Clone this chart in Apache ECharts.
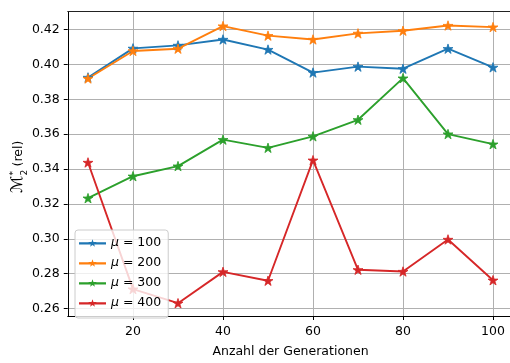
<!DOCTYPE html>
<html>
<head>
<meta charset="utf-8">
<script src="https://cdn.jsdelivr.net/npm/echarts@6/dist/echarts.min.js"></script>
<style>
  html, body { margin: 0; padding: 0; background: #fff; overflow: hidden; width: 510px; height: 363px; }
  #chart { width: 514px; height: 363px; }
</style>
</head>
<body>
<div id="chart"></div>
<script>
// Number of generations (x) and relative M2* per population size mu
const generations = [10, 20, 30, 40, 50, 60, 70, 80, 90, 100];
const mu100 = [0.3926, 0.4093, 0.4110, 0.4144, 0.4086, 0.3954, 0.3988, 0.3976, 0.4091, 0.3984];
const mu200 = [0.3920, 0.4078, 0.4091, 0.4221, 0.4166, 0.4144, 0.4179, 0.4194, 0.4224, 0.4215];
const mu300 = [0.3233, 0.3359, 0.3417, 0.3569, 0.3522, 0.3588, 0.3683, 0.3922, 0.3601, 0.3543];
const mu400 = [0.3438, 0.2711, 0.2630, 0.2810, 0.2759, 0.3451, 0.2822, 0.2812, 0.2996, 0.2762];
const muLabels = ['100', '200', '300', '400'];
const xTicks = [20, 40, 60, 80, 100];
const yTicks = [0.26, 0.28, 0.30, 0.32, 0.34, 0.36, 0.38, 0.40, 0.42];

const colors = ['#1f77b4', '#ff7f0e', '#2ca02c', '#d62728'];
const seriesValues = [mu100, mu200, mu300, mu400];

// five-pointed star outline around (cx, cy) with outer radius r
function starPoints(cx, cy, r) {
  const pts = [];
  for (let i = 0; i < 10; i++) {
    const rr = i % 2 === 0 ? r : r * 0.382;
    const a = -Math.PI / 2 + i * Math.PI / 5;
    pts.push((cx + rr * Math.cos(a)).toFixed(3) + ' ' + (cy + rr * Math.sin(a)).toFixed(3));
  }
  return 'M' + pts.join(' L') + ' Z';
}
const STAR = 'path://' + starPoints(0, 0, 1);
// legend handle: short line segment with a star in the middle
const LEGEND_ICON = 'path://M0 5.9 L27 5.9 L27 8.1 L0 8.1 Z ' + starPoints(13.5, 7, 4.2);

const FONT = 'DejaVu Sans';
const chart = echarts.init(document.getElementById('chart'), null, { renderer: 'canvas' });

const series = seriesValues.map((vals, k) => ({
  name: muLabels[k],
  type: 'line',
  data: generations.map((g, i) => [g, vals[i]]),
  symbol: STAR,
  symbolSize: 10,
  symbolKeepAspect: true,
  showAllSymbol: true,
  lineStyle: { color: colors[k], width: 1.9 },
  itemStyle: { color: colors[k], borderColor: colors[k], borderWidth: 0.8 },
  emphasis: { disabled: true },
  z: 3
}));

// y-axis title pieces: script M with stacked sub/superscript, then "(rel)"
const measure = document.createElement('canvas').getContext('2d');
const mFont = '16px "DejaVu Sans"';
measure.font = mFont;
const mWidth = measure.measureText('ℳ').width;
const mStart = -24;
const scriptX = mStart + mWidth + 0.5;
const relX = scriptX + 9;

chart.setOption({
  animation: false,
  textStyle: { fontFamily: FONT },
  grid: { left: 67.75, right: 0.75, top: 11.7, bottom: 41.3, show: false },
  xAxis: [{
    type: 'value', min: 5.5, max: 104.5, splitNumber: 5,
    axisLine: { show: true, lineStyle: { color: '#000', width: 1 } },
    axisTick: { show: true, customValues: xTicks, length: 4, lineStyle: { color: '#000' } },
    axisLabel: { customValues: xTicks, color: '#000', fontSize: 12.5, fontFamily: FONT, margin: 9 },
    splitLine: { show: true, lineStyle: { color: '#b0b0b0', width: 1 } },
    name: 'Anzahl der Generationen',
    nameLocation: 'middle', nameGap: 29,
    nameTextStyle: { color: '#000', fontSize: 12.5, fontFamily: FONT }
  }, {
    // top spine
    type: 'value', position: 'top', min: 5.5, max: 104.5,
    axisLine: { show: true, lineStyle: { color: '#222', width: 1 } },
    axisTick: { show: false }, axisLabel: { show: false }, splitLine: { show: false }
  }],
  yAxis: {
    type: 'value', min: 0.25566, max: 0.43034, splitNumber: 8,
    axisLine: { show: true, lineStyle: { color: '#000', width: 1 } },
    axisTick: { show: true, customValues: yTicks, length: 4, lineStyle: { color: '#000' } },
    axisLabel: {
      customValues: yTicks, color: '#000', fontSize: 12.5, fontFamily: FONT, margin: 8,
      formatter: v => v.toFixed(2)
    },
    splitLine: { show: true, lineStyle: { color: '#b0b0b0', width: 1 } }
  },
  legend: {
    orient: 'vertical', left: 75, top: 230,
    padding: [6, 7, 8, 4],
    icon: LEGEND_ICON,
    itemWidth: 27, itemHeight: 7.6, itemGap: 6,
    itemStyle: { borderWidth: 0 },
    lineStyle: { width: 0 },
    backgroundColor: 'rgba(255,255,255,0.8)',
    borderColor: '#cccccc', borderWidth: 1, borderRadius: 3,
    data: muLabels,
    formatter: n => '{i|μ} = ' + n,
    textStyle: {
      color: '#000', fontSize: 12.5, fontFamily: FONT, lineHeight: 14,
      rich: { i: { fontStyle: 'italic', fontSize: 12.5, fontFamily: FONT } }
    },
    selectedMode: false,
    z: 10
  },
  graphic: [{
    type: 'group', x: 25, y: 169, rotation: Math.PI / 2, silent: true,
    children: [
      { type: 'text', x: mStart, y: 1, style: { text: 'ℳ', font: mFont, fill: '#000', verticalAlign: 'bottom' } },
      { type: 'text', x: scriptX, y: 4, style: { text: '2', font: '9px "DejaVu Sans"', fill: '#000', verticalAlign: 'bottom' } },
      { type: 'text', x: scriptX, y: -7, style: { text: '*', font: '9px "DejaVu Sans"', fill: '#000', verticalAlign: 'bottom' } },
      { type: 'text', x: relX, y: 0, style: { text: '(rel)', font: '12.5px "DejaVu Sans"', fill: '#000', verticalAlign: 'bottom' } }
    ]
  }],
  series: series
});
</script>
</body>
</html>
